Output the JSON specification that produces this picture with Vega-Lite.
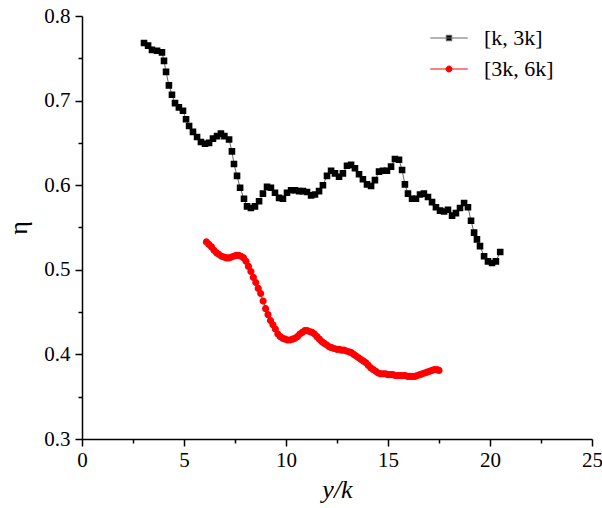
{
  "$schema": "https://vega.github.io/schema/vega-lite/v6.json",
  "width": 510,
  "height": 423,
  "padding": 5,
  "view": {"stroke": null},
  "config": {"style": {"guide-label": {"font": "Liberation Serif"}, "guide-title": {"font": "Liberation Serif"}}},
  "data": {"values": [
    {"x":3.04,"eta":0.768,"series":"[k, 3k]"},{"x":3.24,"eta":0.765,"series":"[k, 3k]"},{"x":3.43,"eta":0.760,"series":"[k, 3k]"},{"x":3.68,"eta":0.759,"series":"[k, 3k]"},{"x":3.92,"eta":0.757,"series":"[k, 3k]"},{"x":4.02,"eta":0.747,"series":"[k, 3k]"},{"x":4.12,"eta":0.734,"series":"[k, 3k]"},{"x":4.26,"eta":0.718,"series":"[k, 3k]"},{"x":4.41,"eta":0.707,"series":"[k, 3k]"},{"x":4.56,"eta":0.697,"series":"[k, 3k]"},{"x":4.75,"eta":0.692,"series":"[k, 3k]"},{"x":4.95,"eta":0.688,"series":"[k, 3k]"},{"x":5.10,"eta":0.678,"series":"[k, 3k]"},{"x":5.25,"eta":0.670,"series":"[k, 3k]"},{"x":5.44,"eta":0.663,"series":"[k, 3k]"},{"x":5.64,"eta":0.657,"series":"[k, 3k]"},{"x":5.83,"eta":0.651,"series":"[k, 3k]"},{"x":6.03,"eta":0.649,"series":"[k, 3k]"},{"x":6.23,"eta":0.650,"series":"[k, 3k]"},{"x":6.42,"eta":0.655,"series":"[k, 3k]"},{"x":6.62,"eta":0.658,"series":"[k, 3k]"},{"x":6.81,"eta":0.661,"series":"[k, 3k]"},{"x":6.98,"eta":0.658,"series":"[k, 3k]"},{"x":7.21,"eta":0.654,"series":"[k, 3k]"},{"x":7.35,"eta":0.640,"series":"[k, 3k]"},{"x":7.45,"eta":0.625,"series":"[k, 3k]"},{"x":7.60,"eta":0.611,"series":"[k, 3k]"},{"x":7.75,"eta":0.597,"series":"[k, 3k]"},{"x":7.94,"eta":0.584,"series":"[k, 3k]"},{"x":8.09,"eta":0.575,"series":"[k, 3k]"},{"x":8.28,"eta":0.573,"series":"[k, 3k]"},{"x":8.48,"eta":0.575,"series":"[k, 3k]"},{"x":8.68,"eta":0.581,"series":"[k, 3k]"},{"x":8.87,"eta":0.590,"series":"[k, 3k]"},{"x":9.07,"eta":0.598,"series":"[k, 3k]"},{"x":9.26,"eta":0.597,"series":"[k, 3k]"},{"x":9.46,"eta":0.591,"series":"[k, 3k]"},{"x":9.66,"eta":0.585,"series":"[k, 3k]"},{"x":9.85,"eta":0.584,"series":"[k, 3k]"},{"x":10.05,"eta":0.591,"series":"[k, 3k]"},{"x":10.25,"eta":0.594,"series":"[k, 3k]"},{"x":10.44,"eta":0.594,"series":"[k, 3k]"},{"x":10.64,"eta":0.593,"series":"[k, 3k]"},{"x":10.83,"eta":0.593,"series":"[k, 3k]"},{"x":11.03,"eta":0.592,"series":"[k, 3k]"},{"x":11.23,"eta":0.588,"series":"[k, 3k]"},{"x":11.42,"eta":0.589,"series":"[k, 3k]"},{"x":11.62,"eta":0.593,"series":"[k, 3k]"},{"x":11.81,"eta":0.600,"series":"[k, 3k]"},{"x":12.01,"eta":0.611,"series":"[k, 3k]"},{"x":12.21,"eta":0.617,"series":"[k, 3k]"},{"x":12.40,"eta":0.614,"series":"[k, 3k]"},{"x":12.60,"eta":0.610,"series":"[k, 3k]"},{"x":12.79,"eta":0.614,"series":"[k, 3k]"},{"x":12.99,"eta":0.623,"series":"[k, 3k]"},{"x":13.19,"eta":0.624,"series":"[k, 3k]"},{"x":13.38,"eta":0.620,"series":"[k, 3k]"},{"x":13.58,"eta":0.613,"series":"[k, 3k]"},{"x":13.77,"eta":0.607,"series":"[k, 3k]"},{"x":13.97,"eta":0.601,"series":"[k, 3k]"},{"x":14.17,"eta":0.599,"series":"[k, 3k]"},{"x":14.36,"eta":0.606,"series":"[k, 3k]"},{"x":14.56,"eta":0.616,"series":"[k, 3k]"},{"x":14.75,"eta":0.617,"series":"[k, 3k]"},{"x":14.95,"eta":0.617,"series":"[k, 3k]"},{"x":15.15,"eta":0.622,"series":"[k, 3k]"},{"x":15.34,"eta":0.631,"series":"[k, 3k]"},{"x":15.54,"eta":0.630,"series":"[k, 3k]"},{"x":15.69,"eta":0.618,"series":"[k, 3k]"},{"x":15.83,"eta":0.601,"series":"[k, 3k]"},{"x":15.98,"eta":0.590,"series":"[k, 3k]"},{"x":16.18,"eta":0.584,"series":"[k, 3k]"},{"x":16.37,"eta":0.584,"series":"[k, 3k]"},{"x":16.57,"eta":0.589,"series":"[k, 3k]"},{"x":16.76,"eta":0.590,"series":"[k, 3k]"},{"x":16.96,"eta":0.586,"series":"[k, 3k]"},{"x":17.16,"eta":0.580,"series":"[k, 3k]"},{"x":17.35,"eta":0.574,"series":"[k, 3k]"},{"x":17.55,"eta":0.570,"series":"[k, 3k]"},{"x":17.75,"eta":0.569,"series":"[k, 3k]"},{"x":17.94,"eta":0.571,"series":"[k, 3k]"},{"x":18.14,"eta":0.564,"series":"[k, 3k]"},{"x":18.33,"eta":0.567,"series":"[k, 3k]"},{"x":18.53,"eta":0.573,"series":"[k, 3k]"},{"x":18.73,"eta":0.579,"series":"[k, 3k]"},{"x":18.92,"eta":0.574,"series":"[k, 3k]"},{"x":19.07,"eta":0.558,"series":"[k, 3k]"},{"x":19.22,"eta":0.544,"series":"[k, 3k]"},{"x":19.36,"eta":0.536,"series":"[k, 3k]"},{"x":19.51,"eta":0.528,"series":"[k, 3k]"},{"x":19.71,"eta":0.516,"series":"[k, 3k]"},{"x":19.90,"eta":0.510,"series":"[k, 3k]"},{"x":20.10,"eta":0.508,"series":"[k, 3k]"},{"x":20.29,"eta":0.510,"series":"[k, 3k]"},{"x":20.50,"eta":0.521,"series":"[k, 3k]"},
    {"x":6.10,"eta":0.533,"series":"[3k, 6k]"},{"x":6.22,"eta":0.530,"series":"[3k, 6k]"},{"x":6.35,"eta":0.527,"series":"[3k, 6k]"},{"x":6.47,"eta":0.523,"series":"[3k, 6k]"},{"x":6.60,"eta":0.520,"series":"[3k, 6k]"},{"x":6.72,"eta":0.518,"series":"[3k, 6k]"},{"x":6.84,"eta":0.516,"series":"[3k, 6k]"},{"x":6.96,"eta":0.515,"series":"[3k, 6k]"},{"x":7.08,"eta":0.514,"series":"[3k, 6k]"},{"x":7.20,"eta":0.514,"series":"[3k, 6k]"},{"x":7.32,"eta":0.515,"series":"[3k, 6k]"},{"x":7.44,"eta":0.516,"series":"[3k, 6k]"},{"x":7.56,"eta":0.517,"series":"[3k, 6k]"},{"x":7.68,"eta":0.517,"series":"[3k, 6k]"},{"x":7.80,"eta":0.516,"series":"[3k, 6k]"},{"x":7.92,"eta":0.514,"series":"[3k, 6k]"},{"x":8.04,"eta":0.510,"series":"[3k, 6k]"},{"x":8.16,"eta":0.504,"series":"[3k, 6k]"},{"x":8.28,"eta":0.498,"series":"[3k, 6k]"},{"x":8.40,"eta":0.491,"series":"[3k, 6k]"},{"x":8.52,"eta":0.485,"series":"[3k, 6k]"},{"x":8.64,"eta":0.478,"series":"[3k, 6k]"},{"x":8.76,"eta":0.472,"series":"[3k, 6k]"},{"x":8.88,"eta":0.463,"series":"[3k, 6k]"},{"x":9.00,"eta":0.454,"series":"[3k, 6k]"},{"x":9.12,"eta":0.447,"series":"[3k, 6k]"},{"x":9.24,"eta":0.440,"series":"[3k, 6k]"},{"x":9.36,"eta":0.435,"series":"[3k, 6k]"},{"x":9.48,"eta":0.430,"series":"[3k, 6k]"},{"x":9.60,"eta":0.424,"series":"[3k, 6k]"},{"x":9.72,"eta":0.421,"series":"[3k, 6k]"},{"x":9.84,"eta":0.419,"series":"[3k, 6k]"},{"x":9.96,"eta":0.418,"series":"[3k, 6k]"},{"x":10.08,"eta":0.417,"series":"[3k, 6k]"},{"x":10.20,"eta":0.417,"series":"[3k, 6k]"},{"x":10.32,"eta":0.418,"series":"[3k, 6k]"},{"x":10.44,"eta":0.419,"series":"[3k, 6k]"},{"x":10.56,"eta":0.421,"series":"[3k, 6k]"},{"x":10.68,"eta":0.424,"series":"[3k, 6k]"},{"x":10.80,"eta":0.426,"series":"[3k, 6k]"},{"x":10.92,"eta":0.428,"series":"[3k, 6k]"},{"x":11.04,"eta":0.428,"series":"[3k, 6k]"},{"x":11.16,"eta":0.427,"series":"[3k, 6k]"},{"x":11.28,"eta":0.426,"series":"[3k, 6k]"},{"x":11.40,"eta":0.424,"series":"[3k, 6k]"},{"x":11.52,"eta":0.421,"series":"[3k, 6k]"},{"x":11.64,"eta":0.418,"series":"[3k, 6k]"},{"x":11.76,"eta":0.415,"series":"[3k, 6k]"},{"x":11.88,"eta":0.413,"series":"[3k, 6k]"},{"x":12.00,"eta":0.411,"series":"[3k, 6k]"},{"x":12.12,"eta":0.409,"series":"[3k, 6k]"},{"x":12.24,"eta":0.408,"series":"[3k, 6k]"},{"x":12.36,"eta":0.407,"series":"[3k, 6k]"},{"x":12.48,"eta":0.406,"series":"[3k, 6k]"},{"x":12.60,"eta":0.406,"series":"[3k, 6k]"},{"x":12.72,"eta":0.405,"series":"[3k, 6k]"},{"x":12.84,"eta":0.405,"series":"[3k, 6k]"},{"x":12.96,"eta":0.404,"series":"[3k, 6k]"},{"x":13.08,"eta":0.403,"series":"[3k, 6k]"},{"x":13.20,"eta":0.402,"series":"[3k, 6k]"},{"x":13.32,"eta":0.400,"series":"[3k, 6k]"},{"x":13.44,"eta":0.398,"series":"[3k, 6k]"},{"x":13.56,"eta":0.396,"series":"[3k, 6k]"},{"x":13.68,"eta":0.394,"series":"[3k, 6k]"},{"x":13.80,"eta":0.392,"series":"[3k, 6k]"},{"x":13.92,"eta":0.390,"series":"[3k, 6k]"},{"x":14.04,"eta":0.387,"series":"[3k, 6k]"},{"x":14.16,"eta":0.384,"series":"[3k, 6k]"},{"x":14.28,"eta":0.382,"series":"[3k, 6k]"},{"x":14.40,"eta":0.380,"series":"[3k, 6k]"},{"x":14.52,"eta":0.378,"series":"[3k, 6k]"},{"x":14.64,"eta":0.377,"series":"[3k, 6k]"},{"x":14.76,"eta":0.377,"series":"[3k, 6k]"},{"x":14.88,"eta":0.377,"series":"[3k, 6k]"},{"x":15.00,"eta":0.376,"series":"[3k, 6k]"},{"x":15.12,"eta":0.376,"series":"[3k, 6k]"},{"x":15.24,"eta":0.376,"series":"[3k, 6k]"},{"x":15.36,"eta":0.375,"series":"[3k, 6k]"},{"x":15.48,"eta":0.375,"series":"[3k, 6k]"},{"x":15.60,"eta":0.375,"series":"[3k, 6k]"},{"x":15.72,"eta":0.375,"series":"[3k, 6k]"},{"x":15.84,"eta":0.375,"series":"[3k, 6k]"},{"x":15.96,"eta":0.374,"series":"[3k, 6k]"},{"x":16.08,"eta":0.374,"series":"[3k, 6k]"},{"x":16.20,"eta":0.374,"series":"[3k, 6k]"},{"x":16.32,"eta":0.374,"series":"[3k, 6k]"},{"x":16.44,"eta":0.375,"series":"[3k, 6k]"},{"x":16.56,"eta":0.376,"series":"[3k, 6k]"},{"x":16.68,"eta":0.377,"series":"[3k, 6k]"},{"x":16.80,"eta":0.378,"series":"[3k, 6k]"},{"x":16.92,"eta":0.379,"series":"[3k, 6k]"},{"x":17.04,"eta":0.380,"series":"[3k, 6k]"},{"x":17.16,"eta":0.381,"series":"[3k, 6k]"},{"x":17.28,"eta":0.382,"series":"[3k, 6k]"},{"x":17.40,"eta":0.382,"series":"[3k, 6k]"},{"x":17.50,"eta":0.381,"series":"[3k, 6k]"}
  ]},
  "encoding": {
    "x": {"field": "x", "type": "quantitative",
          "scale": {"domain": [0, 25], "nice": false, "zero": false},
          "axis": {"orient": "bottom", "values": [0, 2.5, 5, 7.5, 10, 12.5, 15, 17.5, 20, 22.5, 25], "grid": false,
                   "tickSize": {"condition": {"test": "datum.value % 5 === 0", "value": 7}, "value": 4},
                   "labelExpr": "datum.value % 5 === 0 ? datum.label : ''",
                   "tickWidth": 1.5, "tickColor": "black",
                   "domainColor": "black", "domainWidth": 1.5,
                   "labelFont": "Liberation Serif", "labelFontSize": 21, "labelColor": "black", "labelPadding": 3,
                   "labelFlush": false, "labelOverlap": false,
                   "title": "y/k", "titleFont": "Liberation Serif", "titleFontSize": 26, "titleFontStyle": "italic",
                   "titleFontWeight": "normal", "titleColor": "black", "titlePadding": 6}},
    "y": {"field": "eta", "type": "quantitative",
          "scale": {"domain": [0.3, 0.8], "nice": false, "zero": false},
          "axis": {"orient": "left", "values": [0.3, 0.35, 0.4, 0.45, 0.5, 0.55, 0.6, 0.65, 0.7, 0.75, 0.8], "format": ".2f", "grid": false,
                   "tickSize": {"condition": {"test": "round(datum.value * 100) % 10 === 0", "value": 7}, "value": 4},
                   "labelExpr": "round(datum.value * 100) % 10 === 0 ? format(datum.value, '.1f') : ''",
                   "tickWidth": 1.5, "tickColor": "black",
                   "domainColor": "black", "domainWidth": 1.5,
                   "labelFont": "Liberation Serif", "labelFontSize": 21, "labelColor": "black", "labelPadding": 5,
                   "labelFlush": false, "labelOverlap": false,
                   "title": "η", "titleFont": "Liberation Serif", "titleFontSize": 26,
                   "titleFontWeight": "normal", "titleColor": "black", "titlePadding": 12}}
  },
  "layer": [
    {
      "mark": {"type": "line", "strokeWidth": 1},
      "encoding": {
        "stroke": {"field": "series", "type": "nominal",
                   "scale": {"domain": ["[k, 3k]", "[3k, 6k]"], "range": ["#666666", "#ff0000"]}}
      }
    },
    {
      "mark": {"type": "point", "filled": true, "size": 144, "strokeWidth": 0, "opacity": 1},
      "encoding": {
        "fill": {"field": "series", "type": "nominal",
                 "scale": {"domain": ["[k, 3k]", "[3k, 6k]"], "range": ["#000000", "#ff0000"]},
                 "legend": {"title": null, "orient": "right", "offset": -165, "padding": 11,
                            "labelFont": "Liberation Serif", "labelFontSize": 22, "labelColor": "black",
                            "labelOffset": 24, "rowPadding": 9, "symbolStrokeWidth": 1}},
        "shape": {"field": "series", "type": "nominal",
                  "scale": {"domain": ["[k, 3k]", "[3k, 6k]"],
                            "range": ["M-3.75,0H3.75M-0.55,-0.55H0.55V0.55H-0.55Z",
                                      "M-3.75,0H3.75M0.6,0A0.6,0.6,0,1,1,-0.6,0A0.6,0.6,0,1,1,0.6,0Z"]}}
      }
    }
  ]
}
